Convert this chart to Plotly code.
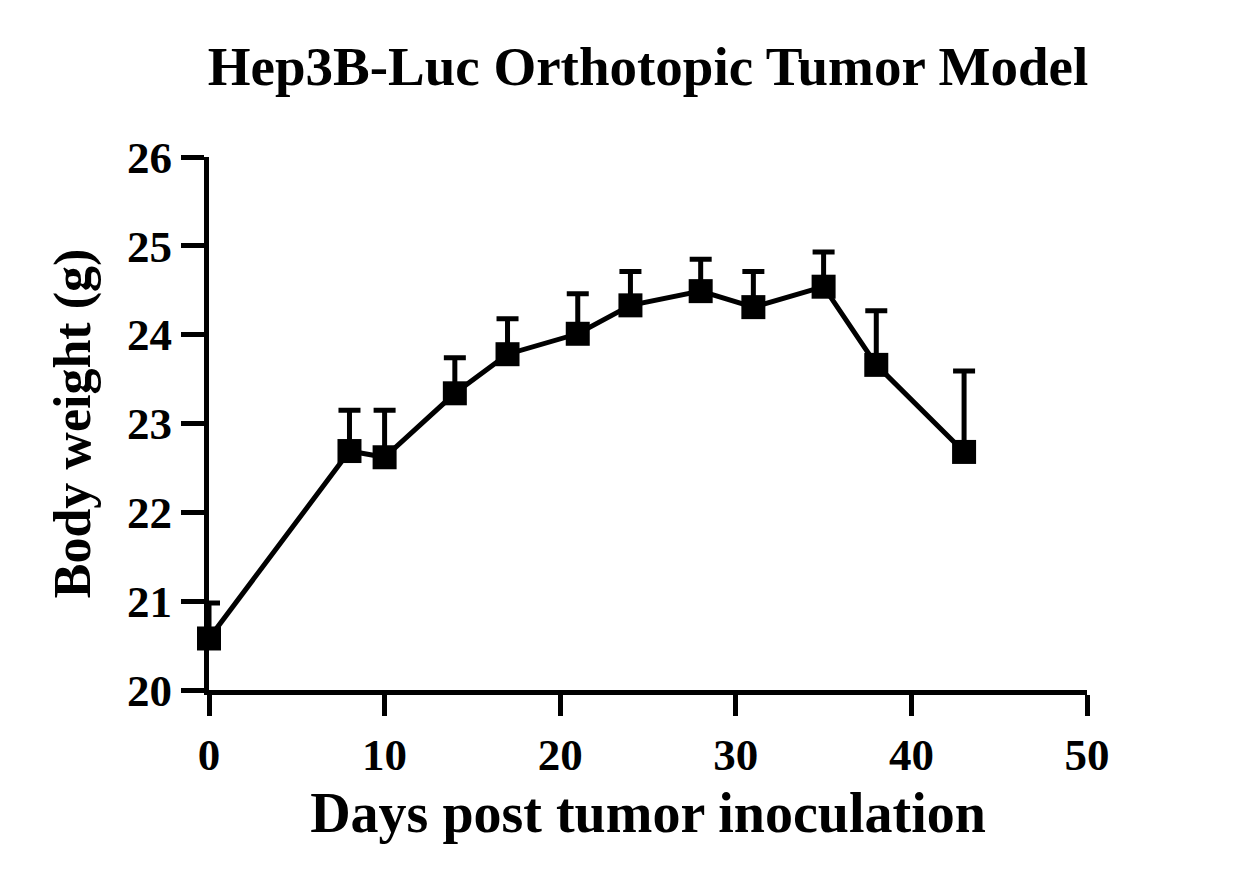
import plotly.graph_objects as go

days = [0, 8, 10, 14, 17, 21, 24, 28, 31, 35, 38, 43]
mean_weight = [20.58, 22.69, 22.62, 23.34, 23.78, 24.01, 24.33, 24.49, 24.31, 24.54, 23.66, 22.68]
sd_upper = [0.40, 0.46, 0.53, 0.40, 0.40, 0.45, 0.38, 0.36, 0.40, 0.39, 0.61, 0.91]

x_ticks = [0, 10, 20, 30, 40, 50]
y_ticks = [20, 21, 22, 23, 24, 25, 26]

FONT = "Liberation Serif"
W, H = 1230, 877

fig = go.Figure()
fig.add_trace(go.Scatter(
    x=days, y=mean_weight,
    mode="lines+markers",
    line=dict(color="black", width=5),
    marker=dict(symbol="square", size=24, color="black"),
    error_y=dict(type="data", array=sd_upper, arrayminus=[0]*len(days),
                 symmetric=False, color="black", thickness=5, width=11),
    cliponaxis=False,
    showlegend=False,
))

fig.update_layout(
    width=W, height=H,
    margin=dict(l=201, r=151, t=149, b=195),
    paper_bgcolor="white", plot_bgcolor="white",
    font=dict(family=FONT, color="black", weight="bold"),
    title=dict(text="Hep3B-Luc Orthotopic Tumor Model",
               font=dict(family=FONT, size=55, color="black", weight="bold"),
               x=0.5, xref="paper", xanchor="center",
               y=1 - 58/H, yref="container", yanchor="middle"),
    xaxis=dict(range=[0, 50], tickvals=x_ticks, showgrid=False, zeroline=False,
               showline=True, linecolor="black", linewidth=5,
               ticks="outside", ticklen=21, tickwidth=5, tickcolor="black",
               tickfont=dict(family=FONT, size=45, color="black", weight="bold"),
               title=dict(text="Days post tumor inoculation", standoff=15,
                          font=dict(family=FONT, size=56, color="black", weight="bold"))),
    yaxis=dict(range=[20, 26], tickvals=y_ticks, showgrid=False, zeroline=False,
               showline=True, linecolor="black", linewidth=5,
               ticks="outside", ticklen=23, tickwidth=5, tickcolor="black",
               tickfont=dict(family=FONT, size=45, color="black", weight="bold"),
               title=dict(text="Body weight (g)", standoff=21,
                          font=dict(family=FONT, size=52, color="black", weight="bold"))),
)

fig.write_html("out.html")
